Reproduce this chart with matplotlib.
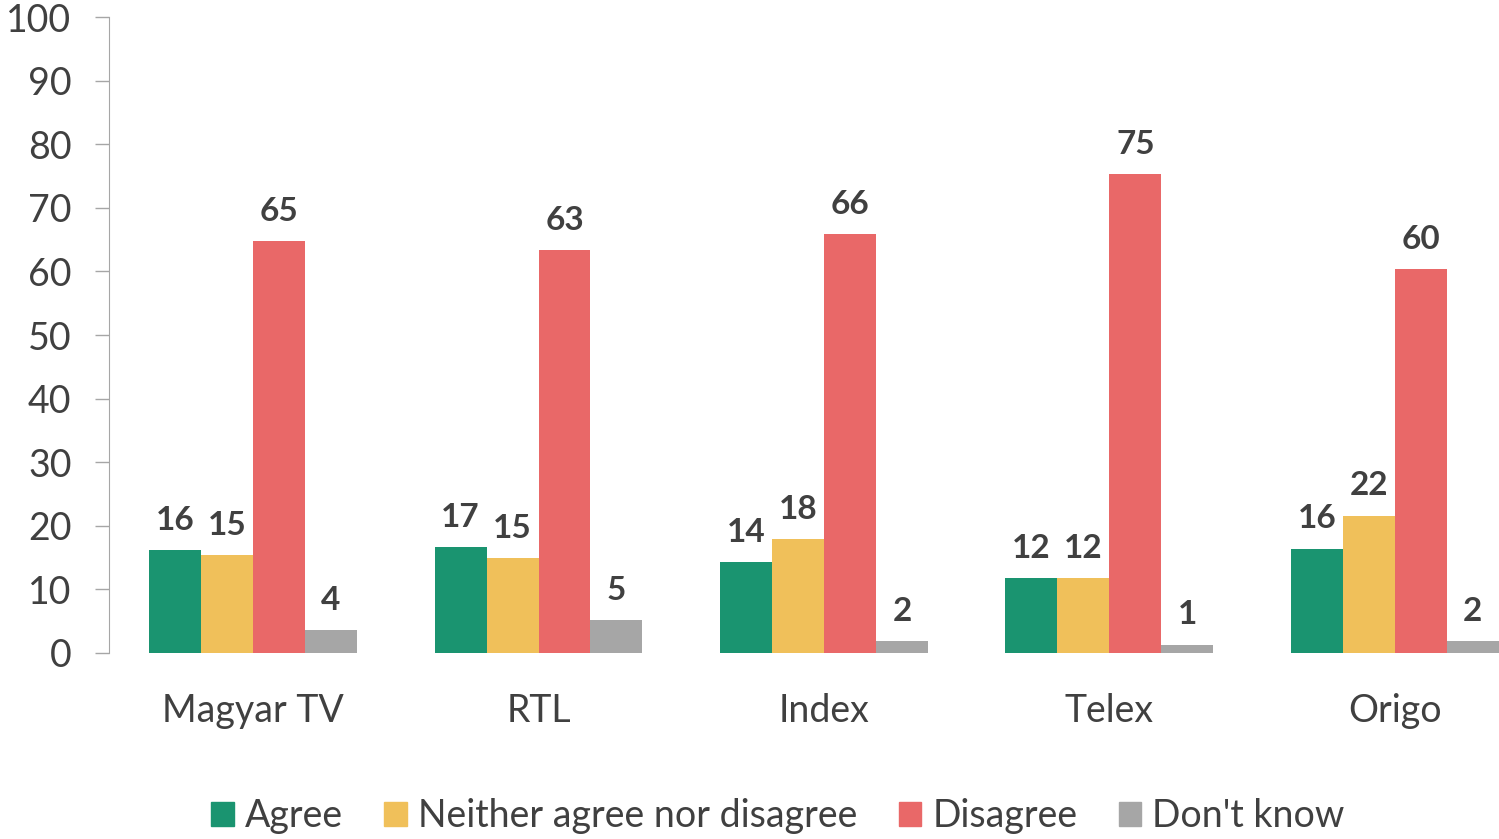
import numpy as np
import matplotlib
matplotlib.use("Agg")
from matplotlib import pyplot as plt
import matplotlib.patches as mpatches

plt.rcParams['font.family'] = ['Lato', 'DejaVu Sans']

# Data
outlets = ["Magyar TV", "RTL", "Index", "Telex", "Origo"]
series = ["Agree", "Neither agree nor disagree", "Disagree", "Don't know"]
agree = [16.2, 16.6, 14.3, 11.8, 16.4]
neither = [15.4, 14.9, 17.9, 11.8, 21.6]
disagree = [64.8, 63.4, 65.9, 75.3, 60.4]
dont_know = [3.6, 5.2, 1.9, 1.3, 1.9]
yticks = [0, 10, 20, 30, 40, 50, 60, 70, 80, 90, 100]

colors = ["#1A9470", "#F0C05A", "#E96868", "#A6A6A6"]
text_color = "#404040"

fig = plt.figure(figsize=(14.99, 8.39), dpi=100)
ax = fig.add_axes([0.0727, 0.2217, 0.9273, 0.758])

x = np.arange(len(outlets))
width = 0.182
values = [agree, neither, disagree, dont_know]

for i, (vals, color) in enumerate(zip(values, colors)):
    offs = (i - 1.5) * width
    bars = ax.bar(x + offs, vals, width=width, color=color, label=series[i])
    ax.bar_label(bars, labels=[f"{v:.0f}" for v in vals], padding=11,
                 fontsize=24, fontweight="bold", color=text_color)

# Presentation
ax.set_xlim(-0.505, 4.365)
ax.set_ylim(0, 100)
ax.set_yticks(yticks)
ax.set_xticks(x)
ax.set_xticklabels(outlets)
ax.tick_params(axis="y", length=10, width=1, color="#A6A6A6", pad=17,
               labelsize=27, labelcolor=text_color)
ax.tick_params(axis="x", length=0, pad=29, labelsize=27, labelcolor=text_color)
for side in ["top", "right", "bottom"]:
    ax.spines[side].set_visible(False)
ax.spines["left"].set_color("#A6A6A6")

patches = [mpatches.Patch(color=c, label=s) for c, s in zip(colors, series)]
fig.legend(handles=patches, loc="center", bbox_to_anchor=(0.519, 0.027), ncol=4,
           frameon=False, fontsize=27, labelcolor=text_color,
           handlelength=0.6, handleheight=0.6, handletextpad=0.3, columnspacing=1.1)

fig.savefig("out.png", dpi=100)
